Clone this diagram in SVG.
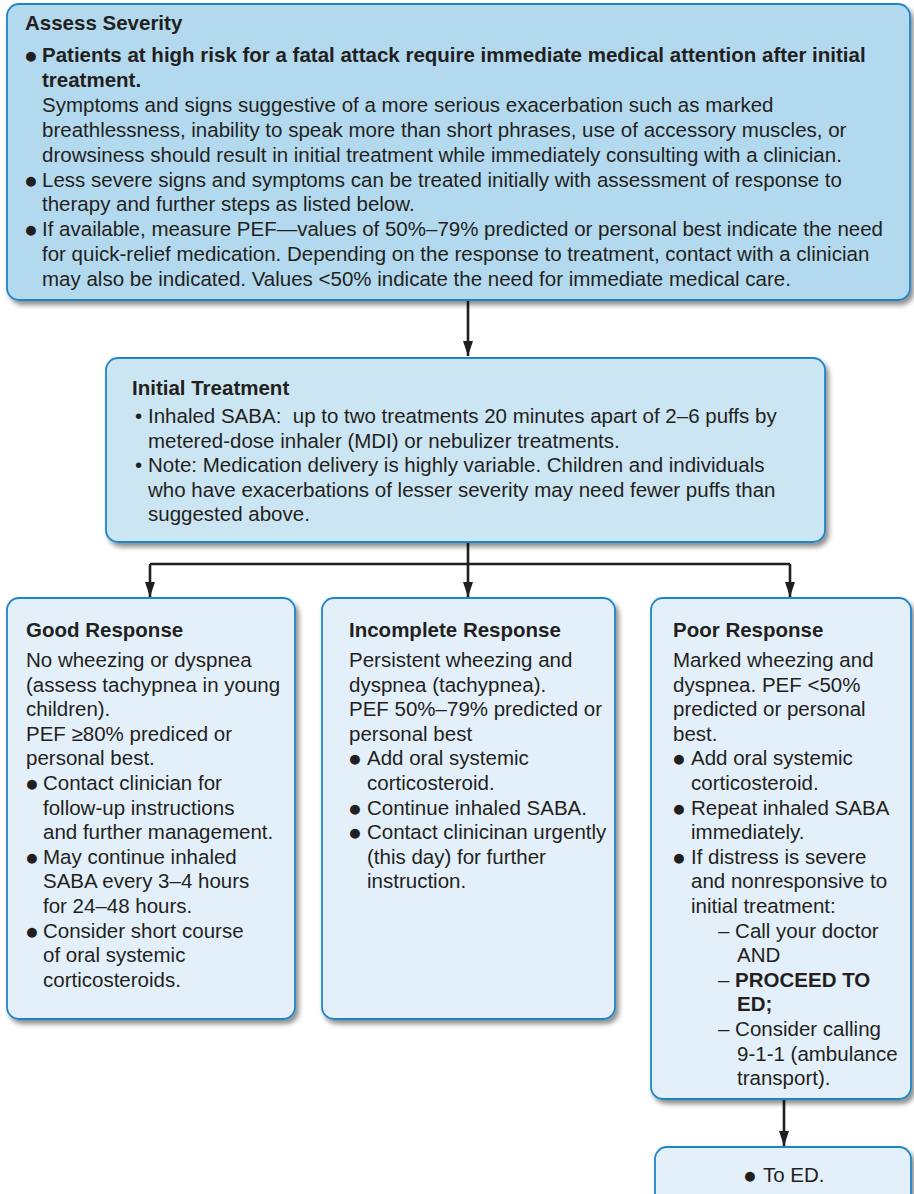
<svg xmlns="http://www.w3.org/2000/svg" width="914" height="1194" viewBox="0 0 914 1194">
<style>
text{font-family:"Liberation Sans",Arial,Helvetica,sans-serif;font-size:20.5px;fill:#231f20}
.b{font-weight:bold}
.bl{font-size:23px}
.box{stroke:#1f85c8;stroke-width:1.8}
.top{fill:#b3d9ee}
.mid{fill:#cce5f3}
.low{fill:#e3f0fa}
.conn{fill:none;stroke:#231f20;stroke-width:2.6}
</style>
<defs>
<filter id="sh" x="-5%" y="-5%" width="115%" height="115%">
<feDropShadow dx="3" dy="4" stdDeviation="2.5" flood-color="#000" flood-opacity="0.45"/>
</filter>
<marker id="ah" viewBox="0 0 15 10" refX="15" refY="5" markerWidth="15" markerHeight="10" markerUnits="userSpaceOnUse" orient="auto">
<path d="M0,0 L15,5 L0,10 z" fill="#231f20"/>
</marker>
</defs>

<g id="connectors">
<path class="conn" d="M468,301 V356" marker-end="url(#ah)"/>
<path class="conn" d="M468,542 V564 M150,564 H790"/>
<path class="conn" d="M150,564 V597" marker-end="url(#ah)"/>
<path class="conn" d="M468,564 V597" marker-end="url(#ah)"/>
<path class="conn" d="M790,564 V597" marker-end="url(#ah)"/>
<path class="conn" d="M784,1099 V1146" marker-end="url(#ah)"/>
</g>

<g id="assess-severity">
<rect class="box top" x="7" y="4" width="903" height="296" rx="12" filter="url(#sh)"/>
<text class="b" x="25" y="30">Assess Severity</text>
<text class="bl" x="24" y="63">●</text>
<text class="b" x="42" y="62">Patients at high risk for a fatal attack require immediate medical attention after initial</text>
<text class="b" x="42" y="86.9">treatment.</text>
<text x="42" y="111.8">Symptoms and signs suggestive of a more serious exacerbation such as marked</text>
<text x="42" y="136.7">breathlessness, inability to speak more than short phrases, use of accessory muscles, or</text>
<text x="42" y="161.6">drowsiness should result in initial treatment while immediately consulting with a clinician.</text>
<text class="bl" x="24" y="187.5">●</text>
<text x="42" y="186.5">Less severe signs and symptoms can be treated initially with assessment of response to</text>
<text x="42" y="211.4">therapy and further steps as listed below.</text>
<text class="bl" x="24" y="237.3">●</text>
<text x="42" y="236.3">If available, measure PEF—values of 50%–79% predicted or personal best indicate the need</text>
<text x="42" y="261.2">for quick-relief medication. Depending on the response to treatment, contact with a clinician</text>
<text x="42" y="286.1">may also be indicated. Values &lt;50% indicate the need for immediate medical care.</text>
</g>

<g id="initial-treatment">
<rect class="box mid" x="106" y="358" width="719" height="184" rx="12" filter="url(#sh)"/>
<text class="b" x="132" y="395">Initial Treatment</text>
<text x="135" y="423">•</text>
<text x="148" y="423" style="white-space:pre">Inhaled SABA:  up to two treatments 20 minutes apart of 2–6 puffs by</text>
<text x="148" y="447.5">metered-dose inhaler (MDI) or nebulizer treatments.</text>
<text x="135" y="472">•</text>
<text x="148" y="472">Note: Medication delivery is highly variable. Children and individuals</text>
<text x="148" y="496.5">who have exacerbations of lesser severity may need fewer puffs than</text>
<text x="148" y="521">suggested above.</text>
</g>

<g id="good-response">
<rect class="box low" x="7" y="598" width="288" height="421" rx="12" filter="url(#sh)"/>
<text class="b" x="26" y="637">Good Response</text>
<text x="26" y="667">No wheezing or dyspnea</text>
<text x="26" y="691.6">(assess tachypnea in young</text>
<text x="26" y="716.2">children).</text>
<text x="26" y="740.8">PEF ≥80% prediced or</text>
<text x="26" y="765.4">personal best.</text>
<text class="bl" x="25" y="791">●</text>
<text x="43" y="790">Contact clinician for</text>
<text x="43" y="814.6">follow-up instructions</text>
<text x="43" y="839.2">and further management.</text>
<text class="bl" x="25" y="864.8">●</text>
<text x="43" y="863.8">May continue inhaled</text>
<text x="43" y="888.4">SABA every 3–4 hours</text>
<text x="43" y="913">for 24–48 hours.</text>
<text class="bl" x="25" y="938.6">●</text>
<text x="43" y="937.6">Consider short course</text>
<text x="43" y="962.2">of oral systemic</text>
<text x="43" y="986.8">corticosteroids.</text>
</g>

<g id="incomplete-response">
<rect class="box low" x="322" y="598" width="293" height="421" rx="12" filter="url(#sh)"/>
<text class="b" x="349" y="637">Incomplete Response</text>
<text x="349" y="667">Persistent wheezing and</text>
<text x="349" y="691.6">dyspnea (tachypnea).</text>
<text x="349" y="716.2">PEF 50%–79% predicted or</text>
<text x="349" y="740.8">personal best</text>
<text class="bl" x="348" y="766.4">●</text>
<text x="367" y="765.4">Add oral systemic</text>
<text x="367" y="790">corticosteroid.</text>
<text class="bl" x="348" y="815.6">●</text>
<text x="367" y="814.6">Continue inhaled SABA.</text>
<text class="bl" x="348" y="840.2">●</text>
<text x="367" y="839.2">Contact clinicinan urgently</text>
<text x="367" y="863.8">(this day) for further</text>
<text x="367" y="888.4">instruction.</text>
</g>

<g id="poor-response">
<rect class="box low" x="651" y="598" width="260" height="501" rx="12" filter="url(#sh)"/>
<text class="b" x="673" y="637">Poor Response</text>
<text x="673" y="667">Marked wheezing and</text>
<text x="673" y="691.6">dyspnea. PEF &lt;50%</text>
<text x="673" y="716.2">predicted or personal</text>
<text x="673" y="740.8">best.</text>
<text class="bl" x="672" y="766.4">●</text>
<text x="691" y="765.4">Add oral systemic</text>
<text x="691" y="790">corticosteroid.</text>
<text class="bl" x="672" y="815.6">●</text>
<text x="691" y="814.6">Repeat inhaled SABA</text>
<text x="691" y="839.2">immediately.</text>
<text class="bl" x="672" y="864.8">●</text>
<text x="691" y="863.8">If distress is severe</text>
<text x="691" y="888.4">and nonresponsive to</text>
<text x="691" y="913">initial treatment:</text>
<text x="718" y="937.6">– Call your doctor</text>
<text x="737" y="962.2">AND</text>
<text x="718" y="986.8">– <tspan class="b">PROCEED TO</tspan></text>
<text class="b" x="737" y="1011.4">ED;</text>
<text x="718" y="1036">– Consider calling</text>
<text x="737" y="1060.6">9-1-1 (ambulance</text>
<text x="737" y="1085.2">transport).</text>
</g>

<g id="to-ed">
<rect class="box low" x="655" y="1147" width="256" height="70" rx="12" filter="url(#sh)"/>
<text class="bl" x="743" y="1183">●</text>
<text x="763" y="1182">To ED.</text>
</g>
</svg>
